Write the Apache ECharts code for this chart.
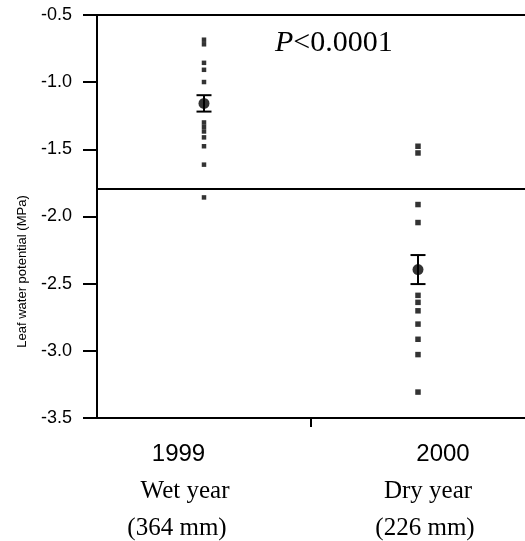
<!DOCTYPE html>
<html>
<head>
<meta charset="utf-8">
<script src="https://cdn.jsdelivr.net/npm/echarts@6/dist/echarts.min.js"></script>
<style>
html,body{margin:0;padding:0;background:#fff;}
#chart{width:525px;height:541px;}
</style>
</head>
<body>
<div id="chart"></div>
<script>
// ---- data ----
const years = ['1999', '2000'];
const yearTypes = ['Wet year', 'Dry year'];
const rainfall = ['(364 mm)', '(226 mm)'];
const wet1999 = [-0.684, -0.718, -0.856, -0.908, -0.999, -1.300, -1.333, -1.367, -1.411, -1.477, -1.614, -1.858];
const dry2000 = [-1.477, -1.527, -1.911, -2.045, -2.587, -2.639, -2.702, -2.801, -2.914, -3.028, -3.307];
const means = [-1.158, -2.395];
const stdErrors = [0.061, 0.108];
const threshold = -1.79;
const yTicks = [-3.5, -3.0, -2.5, -2.0, -1.5, -1.0, -0.5];
const pValueText = '<0.0001';

// ---- chart ----
const chart = echarts.init(document.getElementById('chart'), null, {renderer: 'canvas'});
const sans = 'Liberation Sans';
const serif = 'Liberation Serif';
const black = '#000';
const groupIdx = years.map((y, i) => i);

const option = {
  animation: false,
  backgroundColor: '#fff',
  grid: {left: 97, right: 0, top: 15, bottom: 123, containLabel: false},
  xAxis: [
    {
      // group axis: each year group sits at its index, the divider tick between them
      type: 'value',
      min: -0.5,
      max: years.length - 0.5,
      axisLine: {show: true, onZero: false, lineStyle: {color: black, width: 2}},
      axisTick: {show: true, customValues: [0.5], length: 9, lineStyle: {color: black, width: 2}},
      splitLine: {show: false},
      axisLabel: {
        customValues: groupIdx,
        margin: 18,
        color: black,
        formatter: function (v) {
          const k = Math.round(v);
          const s = k === 0 ? 'a' : 'b';
          return '{y' + s + '|' + years[k] + '}\n{t' + s + '|' + yearTypes[k] + '}\n{r' + s + '|' + rainfall[k] + '}';
        },
        rich: {
          ya: {fontFamily: sans, fontSize: 24, lineHeight: 37, color: black, padding: [0, 51, 0, 0]},
          ta: {fontFamily: serif, fontSize: 25, lineHeight: 37, color: black, padding: [0, 38, 0, 0]},
          ra: {fontFamily: serif, fontSize: 25, lineHeight: 37, color: black, padding: [0, 54, 0, 0]},
          yb: {fontFamily: sans, fontSize: 24, lineHeight: 37, color: black, padding: [0, 0, 0, 50]},
          tb: {fontFamily: serif, fontSize: 25, lineHeight: 37, color: black, padding: [0, 0, 0, 20]},
          rb: {fontFamily: serif, fontSize: 25, lineHeight: 37, color: black, padding: [0, 0, 0, 14]}
        }
      }
    },
    {
      type: 'value',
      position: 'top',
      min: 0, max: 1,
      axisLine: {show: true, onZero: false, lineStyle: {color: black, width: 2}},
      axisTick: {show: false},
      axisLabel: {show: false},
      splitLine: {show: false}
    }
  ],
  yAxis: {
    type: 'value',
    min: yTicks[0],
    max: yTicks[yTicks.length - 1],
    interval: 0.5,
    name: 'Leaf water potential (MPa)',
    nameLocation: 'middle',
    nameGap: 68,
    nameRotate: 90,
    nameTextStyle: {fontFamily: sans, fontSize: 13, color: black, padding: [0, 110, 0, 0]},
    axisLine: {show: true, onZero: false, lineStyle: {color: black, width: 2}},
    axisTick: {show: true, length: 14, lineStyle: {color: black, width: 2}},
    axisLabel: {margin: 25, fontFamily: sans, fontSize: 18, color: black, formatter: function (v) { return v.toFixed(1); }},
    splitLine: {show: false}
  },
  graphic: [
    {
      type: 'text',
      left: 275,
      top: 28,
      style: {
        text: '{i|P}{n|' + pValueText + '}',
        rich: {
          i: {fontFamily: serif, fontSize: 30, fontStyle: 'italic', fill: black},
          n: {fontFamily: serif, fontSize: 30, fill: black}
        }
      }
    }
  ],
  series: [
    {
      name: '1999',
      type: 'scatter',
      symbol: 'rect',
      symbolSize: 4.5,
      itemStyle: {color: black},
      data: wet1999.map(v => [groupIdx[0], v]),
      markLine: {
        silent: true,
        symbol: ['none', 'none'],
        label: {show: false},
        lineStyle: {color: black, width: 2, type: 'solid'},
        data: [{yAxis: threshold}]
      }
    },
    {
      name: '2000',
      type: 'scatter',
      symbol: 'rect',
      symbolSize: 5.5,
      itemStyle: {color: black},
      data: dry2000.map(v => [groupIdx[1], v])
    },
    {
      name: 'error',
      type: 'custom',
      data: groupIdx.map(i => [i, means[i], stdErrors[i]]),
      encode: {x: 0, y: 1},
      renderItem: function (params, api) {
        const x = api.value(0), m = api.value(1), e = api.value(2);
        const top = api.coord([x, m + e]);
        const bot = api.coord([x, m - e]);
        const hw = 7.5;
        const st = {stroke: black, lineWidth: 2};
        return {
          type: 'group',
          children: [
            {type: 'line', shape: {x1: top[0], y1: top[1], x2: bot[0], y2: bot[1]}, style: st},
            {type: 'line', shape: {x1: top[0] - hw, y1: top[1], x2: top[0] + hw, y2: top[1]}, style: st},
            {type: 'line', shape: {x1: bot[0] - hw, y1: bot[1], x2: bot[0] + hw, y2: bot[1]}, style: st}
          ]
        };
      }
    },
    {
      name: 'mean',
      type: 'scatter',
      symbol: 'circle',
      symbolSize: 11,
      itemStyle: {color: black},
      z: 5,
      data: groupIdx.map(i => [i, means[i]])
    }
  ]
};
chart.setOption(option);
</script>
</body>
</html>
